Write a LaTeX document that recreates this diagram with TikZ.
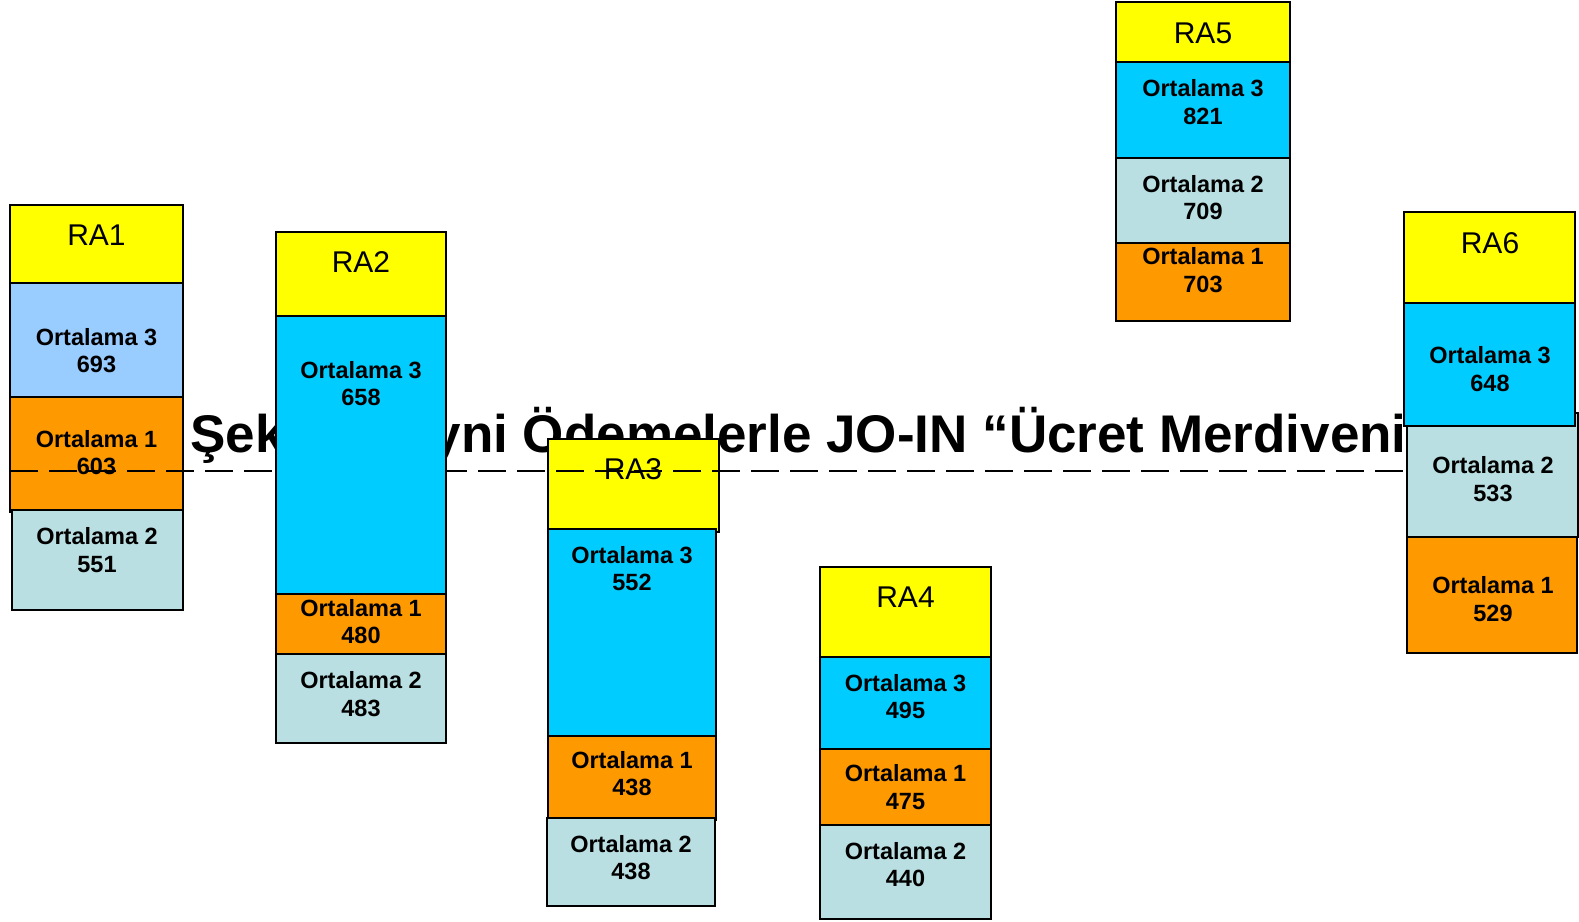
\documentclass[tikz,border=0pt]{standalone}
\usepackage{fontspec}
\setmainfont{Liberation Sans}
\definecolor{headyellow}{HTML}{FFFF00}
\definecolor{avgcyan}{HTML}{00CCFF}
\definecolor{avgsky}{HTML}{99CCFF}
\definecolor{avgorange}{HTML}{FF9900}
\definecolor{avgpale}{HTML}{BADFE2}
\begin{document}
\begin{tikzpicture}[x=1pt,y=-1pt,
  cell/.style={draw=black, line width=1.8pt},
  ralab/.style={inner sep=0pt, font=\fontsize{30}{36}\selectfont},
  ortlab/.style={inner sep=0pt, align=center, font=\fontsize{23.5}{27.5}\selectfont\bfseries}]
\useasboundingbox (0,0) rectangle (1579,921);

\node[anchor=base west, inner sep=0pt, font=\fontsize{53}{60}\selectfont\bfseries] (title) at (190,452) {Şekil 1: Ayni Ödemelerle JO-IN “Ücret Merdiveni”};

\draw[cell, fill=headyellow] (10,205) rectangle (183,283);
\draw[cell, fill=avgsky] (10,283) rectangle (183,397);
\draw[cell, fill=avgorange] (10,397) rectangle (183,512);
\draw[cell, fill=avgpale] (12,510) rectangle (183,610);

\draw[cell, fill=headyellow] (548,439) rectangle (719,532);
\draw[cell, fill=avgcyan] (548,529) rectangle (716,736);
\draw[cell, fill=avgorange] (548,736) rectangle (716,820);
\draw[cell, fill=avgpale] (547,818) rectangle (715,906);

\draw[line width=2pt, dash pattern=on 28pt off 11pt, dash phase=29pt] (0,471) -- (1579,471);

\draw[cell, fill=headyellow] (276,232) rectangle (446,316);
\draw[cell, fill=avgcyan] (276,316) rectangle (446,594);
\draw[cell, fill=avgorange] (276,594) rectangle (446,654);
\draw[cell, fill=avgpale] (276,654) rectangle (446,743);

\draw[cell, fill=headyellow] (820,567) rectangle (991,657);
\draw[cell, fill=avgcyan] (820,657) rectangle (991,749);
\draw[cell, fill=avgorange] (820,749) rectangle (991,825);
\draw[cell, fill=avgpale] (820,825) rectangle (991,919);

\draw[cell, fill=headyellow] (1116,2) rectangle (1290,62);
\draw[cell, fill=avgcyan] (1116,62) rectangle (1290,158);
\draw[cell, fill=avgpale] (1116,158) rectangle (1290,243);
\draw[cell, fill=avgorange] (1116,243) rectangle (1290,321);

\draw[cell, fill=headyellow] (1404,212) rectangle (1575,303);
\draw[cell, fill=avgpale] (1407,413) rectangle (1578,537);
\draw[cell, fill=avgcyan] (1404,303) rectangle (1575,426);
\draw[cell, fill=avgorange] (1407,537) rectangle (1577,653);

\node[ralab] (ra1) at (96.5,235) {RA1};
\node[ortlab] (ra1o3) at (96.5,350.5) {Ortalama 3\\693};
\node[ortlab] (ra1o1) at (96.5,452.5) {Ortalama 1\\603};
\node[ortlab] (ra1o2) at (97,550) {Ortalama 2\\551};

\node[ralab] (ra2) at (361,262) {RA2};
\node[ortlab] (ra2o3) at (361,383.5) {Ortalama 3\\658};
\node[ortlab] (ra2o1) at (361,621.5) {Ortalama 1\\480};
\node[ortlab] (ra2o2) at (361,694) {Ortalama 2\\483};

\node[ralab] (ra3) at (633,469) {RA3};
\node[ortlab] (ra3o3) at (632,568.5) {Ortalama 3\\552};
\node[ortlab] (ra3o1) at (632,773.5) {Ortalama 1\\438};
\node[ortlab] (ra3o2) at (631,857.5) {Ortalama 2\\438};

\node[ralab] (ra4) at (905.5,597) {RA4};
\node[ortlab] (ra4o3) at (905.5,696.5) {Ortalama 3\\495};
\node[ortlab] (ra4o1) at (905.5,787) {Ortalama 1\\475};
\node[ortlab] (ra4o2) at (905.5,864.5) {Ortalama 2\\440};

\node[ralab] (ra5) at (1203,33) {RA5};
\node[ortlab] (ra5o3) at (1203,102) {Ortalama 3\\821};
\node[ortlab] (ra5o2) at (1203,197.5) {Ortalama 2\\709};
\node[ortlab] (ra5o1) at (1203,270) {Ortalama 1\\703};

\node[ralab] (ra6) at (1490,243) {RA6};
\node[ortlab] (ra6o3) at (1490,369) {Ortalama 3\\648};
\node[ortlab] (ra6o2) at (1493,479) {Ortalama 2\\533};
\node[ortlab] (ra6o1) at (1493,599) {Ortalama 1\\529};
\end{tikzpicture}
\end{document}
